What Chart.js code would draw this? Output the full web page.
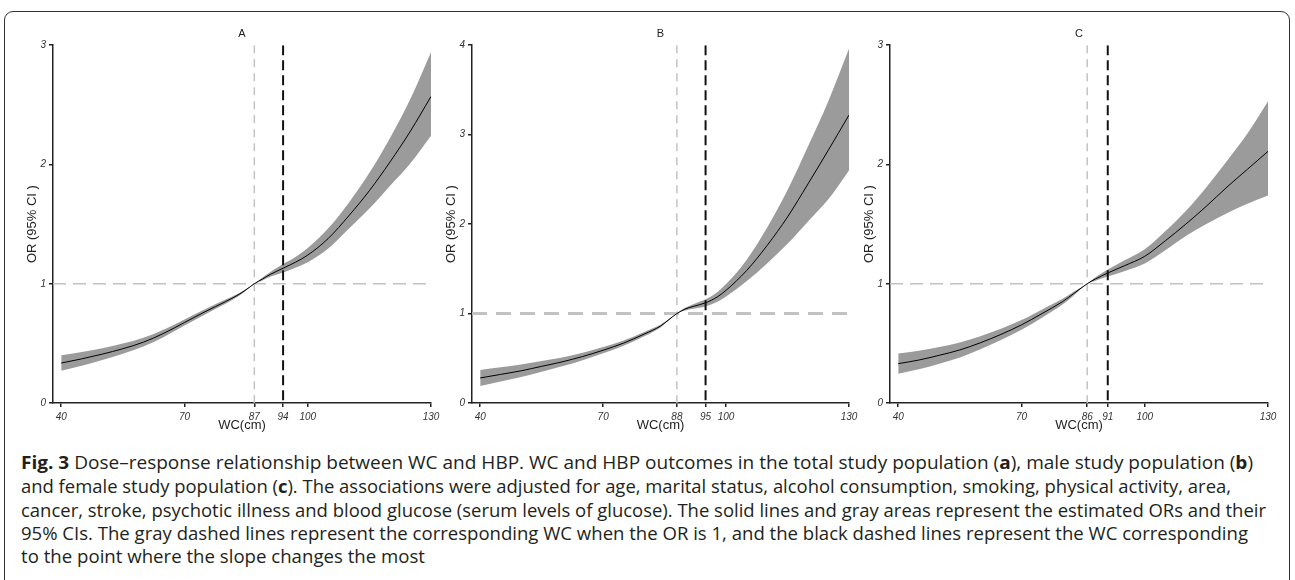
<!DOCTYPE html>
<html>
<head>
<meta charset="utf-8">
<script src="https://cdn.jsdelivr.net/npm/chart.js@4.4.1/dist/chart.umd.min.js"></script>
<style>
  html, body { margin: 0; padding: 0; background: #fff; }
  body { width: 1295px; height: 580px; position: relative; overflow: hidden; }
  .frame { position: absolute; left: 4px; top: 11px; width: 1286px; height: 640px;
           border: 1.5px solid #333; border-radius: 9px; box-sizing: border-box; }
  canvas.panel { position: absolute; }
  .cap { position: absolute; left: 21px; font-family: "Open Sans", sans-serif; font-size: 18px;
         line-height: 24px; color: #231f20; white-space: nowrap; transform-origin: 0 50%; }
  .cap b { font-weight: 700; }
</style>
</head>
<body>
<div class="frame"></div>
<canvas id="pA" class="panel" width="424" height="413" style="left:21px;top:20px;width:424px;height:413px"></canvas>
<canvas id="pB" class="panel" width="423" height="413" style="left:440px;top:20px;width:423px;height:413px"></canvas>
<canvas id="pC" class="panel" width="424" height="413" style="left:858px;top:20px;width:424px;height:413px"></canvas>

<div class="cap" style="top:450px" data-w="1232"><b>Fig. 3</b> Dose–response relationship between WC and HBP. WC and HBP outcomes in the total study population (<b>a</b>), male study population (<b>b</b>)</div>
<div class="cap" style="top:474px" data-w="1210">and female study population (<b>c</b>). The associations were adjusted for age, marital status, alcohol consumption, smoking, physical activity, area,</div>
<div class="cap" style="top:498px" data-w="1245">cancer, stroke, psychotic illness and blood glucose (serum levels of glucose). The solid lines and gray areas represent the estimated ORs and their</div>
<div class="cap" style="top:521px" data-w="1227">95% CIs. The gray dashed lines represent the corresponding WC when the OR is 1, and the black dashed lines represent the WC corresponding</div>
<div class="cap" style="top:544px" data-w="404">to the point where the slope changes the most</div>

<script>
// x range shared by the three panels
const xMin = 38;
const xMax = 130;

// panel A: total population
const wcA  = [40, 45, 50, 55, 60, 65, 70, 75, 80, 83, 85, 87, 89, 91, 94, 97, 100, 105, 110, 115, 120, 125, 130];
const orA  = [0.335, 0.37, 0.41, 0.455, 0.51, 0.585, 0.675, 0.765, 0.85, 0.905, 0.95, 1.0, 1.04, 1.08, 1.13, 1.18, 1.24, 1.38, 1.57, 1.78, 2.02, 2.28, 2.57];
const upA  = [0.40, 0.428, 0.46, 0.498, 0.547, 0.616, 0.701, 0.787, 0.868, 0.917, 0.956, 1.0, 1.052, 1.10, 1.165, 1.225, 1.30, 1.465, 1.68, 1.93, 2.22, 2.55, 2.94];
const lowA = [0.27, 0.312, 0.36, 0.412, 0.473, 0.554, 0.649, 0.743, 0.832, 0.893, 0.944, 1.0, 1.028, 1.06, 1.095, 1.135, 1.18, 1.295, 1.46, 1.63, 1.82, 2.01, 2.24];
const ticksA = [40, 70, 87, 94, 100, 130];

// panel B: male
const wcB  = [40, 45, 50, 55, 60, 65, 70, 75, 80, 84, 86, 88, 90, 92, 95, 98, 100, 105, 110, 115, 120, 125, 130];
const orB  = [0.28, 0.32, 0.36, 0.41, 0.46, 0.52, 0.59, 0.67, 0.77, 0.86, 0.93, 1.0, 1.05, 1.08, 1.12, 1.19, 1.26, 1.48, 1.76, 2.08, 2.45, 2.83, 3.22];
const upB  = [0.37, 0.40, 0.43, 0.47, 0.51, 0.562, 0.625, 0.70, 0.795, 0.875, 0.938, 1.0, 1.065, 1.105, 1.16, 1.245, 1.33, 1.60, 1.96, 2.38, 2.87, 3.38, 3.96];
const lowB = [0.19, 0.24, 0.29, 0.35, 0.41, 0.478, 0.555, 0.64, 0.745, 0.845, 0.922, 1.0, 1.035, 1.055, 1.08, 1.135, 1.19, 1.36, 1.56, 1.78, 2.03, 2.28, 2.60];
const ticksB = [40, 70, 88, 95, 100, 130];

// panel C: female
const wcC  = [40, 45, 50, 55, 60, 65, 70, 75, 80, 83, 86, 88, 91, 95, 100, 105, 110, 115, 120, 125, 130];
const orC  = [0.33, 0.36, 0.40, 0.445, 0.505, 0.575, 0.655, 0.75, 0.85, 0.925, 1.0, 1.04, 1.09, 1.15, 1.23, 1.36, 1.50, 1.65, 1.81, 1.96, 2.11];
const upC  = [0.415, 0.438, 0.47, 0.508, 0.56, 0.622, 0.695, 0.785, 0.875, 0.94, 1.0, 1.055, 1.12, 1.195, 1.29, 1.44, 1.61, 1.81, 2.03, 2.26, 2.53];
const lowC = [0.245, 0.282, 0.33, 0.382, 0.45, 0.528, 0.615, 0.715, 0.825, 0.91, 1.0, 1.025, 1.06, 1.105, 1.17, 1.28, 1.40, 1.50, 1.59, 1.67, 1.74];
const ticksC = [40, 70, 86, 91, 100, 130];

const font = "'Liberation Sans', Arial, sans-serif";
const axisColor = '#222';
const bandColor = '#9b9b9b';
const refGray = '#c2c2c2';

function pts(xs, ys) {
  return xs.map((x, i) => ({ x: x, y: ys[i] }));
}

function makePanel(id, title, wc, or, up, low, ticks, yMax, hLine) {
  const grayX = ticks[2];
  const blackX = ticks[3];
  return new Chart(document.getElementById(id), {
    type: 'line',
    data: {
      datasets: [
        { data: [{ x: blackX, y: yMax }, { x: blackX, y: 0 }], borderColor: '#111', borderWidth: 2,
          borderDash: [10, 5], pointRadius: 0, fill: false, order: 0 },
        { data: pts(wc, or), borderColor: '#000', borderWidth: 1, pointRadius: 0, fill: false,
          cubicInterpolationMode: 'monotone', order: 1 },
        { data: [{ x: grayX, y: yMax }, { x: grayX, y: 0 }], borderColor: refGray, borderWidth: 1.5,
          borderDash: [8, 6], pointRadius: 0, fill: false, order: 2 },
        { data: [{ x: xMin, y: 1 }, { x: xMax, y: 1 }], borderColor: refGray, borderWidth: hLine.w,
          borderDash: hLine.dash, pointRadius: 0, fill: false, order: 2 },
        { data: pts(wc, up), borderColor: 'rgba(0,0,0,0)', borderWidth: 0, pointRadius: 0,
          backgroundColor: bandColor, fill: '+1', cubicInterpolationMode: 'monotone', order: 3 },
        { data: pts(wc, low), borderColor: 'rgba(0,0,0,0)', borderWidth: 0, pointRadius: 0,
          fill: false, cubicInterpolationMode: 'monotone', order: 3 }
      ]
    },
    options: {
      responsive: false,
      animation: false,
      devicePixelRatio: 1,
      layout: { padding: { left: 0, right: 14, top: 0, bottom: 0 } },
      plugins: {
        legend: { display: false },
        tooltip: { enabled: false },
        filler: { drawTime: 'beforeDatasetsDraw' },
        title: { display: true, text: title, fullSize: false, color: axisColor,
                 font: { family: font, size: 11, weight: 'normal' }, padding: { top: 7, bottom: 5 } }
      },
      scales: {
        x: {
          type: 'linear', min: xMin, max: xMax,
          afterBuildTicks: (s) => { s.ticks = ticks.map(v => ({ value: v })); },
          afterFit: (s) => { s.height = 30; },
          ticks: { color: '#333', font: { family: font, size: 10, style: 'italic' }, padding: 4,
                   maxRotation: 0, autoSkip: false, callback: (v) => String(v) },
          grid: { drawOnChartArea: false, drawTicks: true, tickLength: 4, color: axisColor, lineWidth: 1.5 },
          border: { display: true, color: axisColor, width: 1.5 },
          title: { display: true, text: 'WC(cm)', color: axisColor, font: { family: font, size: 13 },
                   padding: 0 }
        },
        y: {
          min: 0, max: yMax,
          afterFit: (s) => { s.width = 32; },
          ticks: { stepSize: 1, color: '#333', font: { family: font, size: 10, style: 'italic' }, padding: 3 },
          grid: { drawOnChartArea: false, drawTicks: true, tickLength: 4, color: axisColor, lineWidth: 1.5 },
          border: { display: true, color: axisColor, width: 1.5 },
          title: { display: true, text: 'OR (95% CI )', color: axisColor, font: { family: font, size: 13 },
                   padding: { top: 4, bottom: 0 } }
        }
      }
    }
  });
}

makePanel('pA', 'A', wcA, orA, upA, lowA, ticksA, 3, { w: 1.5, dash: [13, 7] });
makePanel('pB', 'B', wcB, orB, upB, lowB, ticksB, 4, { w: 3, dash: [15, 9] });
makePanel('pC', 'C', wcC, orC, upC, lowC, ticksC, 3, { w: 1.5, dash: [13, 7] });

// squeeze each caption line to the width it has in the figure
document.querySelectorAll('.cap').forEach((el) => {
  const w = el.getBoundingClientRect().width;
  el.style.transform = 'scaleX(' + (Number(el.dataset.w) / w) + ')';
});
</script>
</body>
</html>
